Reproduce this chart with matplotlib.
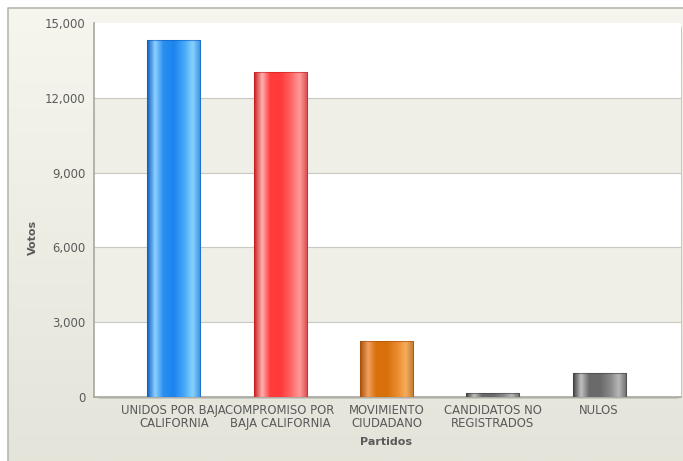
import numpy as np
import matplotlib
matplotlib.use("Agg")
import matplotlib.pyplot as plt
from matplotlib.colors import LinearSegmentedColormap
from matplotlib.patches import Rectangle, FancyBboxPatch

categories = ["UNIDOS POR BAJA\nCALIFORNIA", "COMPROMISO POR\nBAJA CALIFORNIA",
              "MOVIMIENTO\nCIUDADANO", "CANDIDATOS NO\nREGISTRADOS", "NULOS"]
votes = [14320, 13040, 2250, 160, 960]
yticks = [0, 3000, 6000, 9000, 12000, 15000]
ytick_labels = ["0", "3,000", "6,000", "9,000", "12,000", "15,000"]

bar_grads = [
    ["#0a5fc0", "#8fd0ff", "#2a8ff0", "#1b84ee", "#4aaaf8", "#86d2ff", "#3a8ee0"],
    ["#c81e1e", "#ffb0b0", "#ff3c3c", "#ff3a3a", "#ff6a6a", "#ff9a9a", "#d84848"],
    ["#a85008", "#f0a060", "#d8700c", "#d8700c", "#ec8c30", "#f6ac5c", "#c07830"],
    ["#404040", "#c0c0c0", "#6a6a6a", "#6a6a6a", "#8a8a8a", "#b8b8b8", "#6a6a6a"],
    ["#404040", "#c0c0c0", "#6a6a6a", "#6a6a6a", "#8a8a8a", "#b8b8b8", "#6a6a6a"],
]
grad_pos = [0.0, 0.15, 0.3, 0.5, 0.7, 0.85, 1.0]

W, H = 683, 461
fig = plt.figure(figsize=(W / 100, H / 100), dpi=100)
fig.patch.set_facecolor("white")

# outer panel background with gradient
bg = fig.add_axes([0, 0, 1, 1], zorder=0)
bg.set_xlim(0, W)
bg.set_ylim(H, 0)
bg.axis("off")
gy = np.linspace(0, 1, 256).reshape(-1, 1)
bg_cmap = LinearSegmentedColormap.from_list("bg", ["#f6f6ee", "#e4e4da"])
bg.imshow(gy, extent=[8, W, H, 8], cmap=bg_cmap, aspect="auto", zorder=0)
bg.plot([8, 8, W], [H, 8, 8], color="#b8b8b0", lw=1.2, zorder=1)
# shadow around plot area
bg.add_patch(FancyBboxPatch((95, 24), 587, 375, boxstyle="round,pad=0,rounding_size=6",
                            facecolor="#c8c8c0", edgecolor="none", zorder=1))

ax = fig.add_axes([94 / W, 1 - 397 / H, (681 - 94) / W, (397 - 23) / H], zorder=2)
ax.set_facecolor("white")
x = np.arange(len(categories))

# alternating bands
for i in range(len(yticks) - 1):
    if i % 2 == 1:
        ax.axhspan(yticks[i], yticks[i + 1], color="#efefe8", zorder=0, lw=0)
for t in yticks[1:-1]:
    ax.axhline(t, color="#c8c8c0", lw=0.8, zorder=1)

bars = ax.bar(x, votes, width=0.5, color="none", edgecolor="none", zorder=3)
for b, cols in zip(bars, bar_grads):
    cmap = LinearSegmentedColormap.from_list("g", list(zip(grad_pos, cols)))
    x0, w, h = b.get_x(), b.get_width(), b.get_height()
    grad = np.linspace(0, 1, 256).reshape(1, -1)
    clip = Rectangle((x0, 0), w, h, transform=ax.transData, facecolor="none", edgecolor="none")
    ax.add_patch(clip)
    im = ax.imshow(grad, extent=[x0, x0 + w, 0, h], cmap=cmap, aspect="auto", zorder=3)
    im.set_clip_path(clip)
    ax.add_patch(Rectangle((x0, 0), w, h, facecolor="none", edgecolor=cols[0],
                           lw=0.8, alpha=0.6, zorder=4))
ax.set_xlim(-0.75, len(categories) - 1 + 0.77)
ax.set_ylim(0, 15000)

ax.set_yticks(yticks)
ax.set_yticklabels(ytick_labels)
ax.set_xticks(x)
ax.set_xticklabels(categories, linespacing=1.05)
ax.tick_params(axis="both", length=0, labelsize=8.4, labelcolor="#5a5a5a")
ax.tick_params(axis="y", pad=6)
ax.tick_params(axis="x", pad=5)
for s in ["top", "right"]:
    ax.spines[s].set_visible(False)
ax.spines["left"].set_color("#a8a8a0")
ax.spines["bottom"].set_color("#a8a8a0")
ax.spines["left"].set_linewidth(1.2)
ax.spines["bottom"].set_linewidth(1.2)

fig.text(33 / W, 1 - 237 / H, "Votos", rotation=90, ha="center", va="center",
         fontsize=8, fontweight="bold", color="#5a5a5a")
fig.text(386 / W, 1 - 442 / H, "Partidos", ha="center", va="center",
         fontsize=8, fontweight="bold", color="#5a5a5a")

fig.savefig("out.png", dpi=100)
